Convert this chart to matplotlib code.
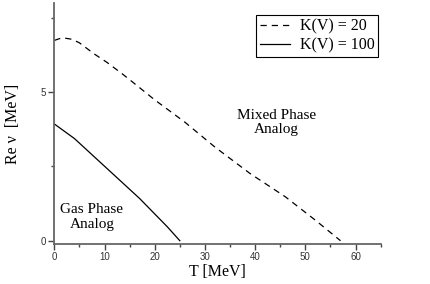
import matplotlib
matplotlib.use("Agg")
import matplotlib.pyplot as plt
from matplotlib.ticker import MultipleLocator

# Data
T_k20 = [0, 1, 2, 3.5, 5, 8, 10.5, 13.5, 15, 20, 26, 32, 39, 46, 52, 57]
V_k20 = [6.74, 6.8, 6.82, 6.78, 6.66, 6.28, 6.0, 5.62, 5.42, 4.74, 3.99, 3.15, 2.26, 1.48, 0.69, 0.0]
T_k100 = [0, 4, 10.5, 17, 22.5, 25]
V_k100 = [3.93, 3.44, 2.43, 1.42, 0.47, 0.0]
labels = ["K(V) = 20", "K(V) = 100"]
x_label = "T [MeV]"
y_label = "Re \u03bd  [MeV]"
x_ticks = [0, 10, 20, 30, 40, 50, 60]
y_ticks = [0, 5]

serif = ["Liberation Serif", "DejaVu Serif"]
sans = ["Liberation Sans", "DejaVu Sans"]

fig = plt.figure(figsize=(4.3, 2.84), dpi=100)
ax = fig.add_axes([54.3 / 430, (284 - 244) / 284, (380.7 - 54.3) / 430, (244 - 3) / 284])

ax.plot(T_k20, V_k20, color="black", lw=0.9, linestyle=(0, (5, 4)), label=labels[0])
ax.plot(T_k100, V_k100, color="black", lw=0.9, linestyle="-", label=labels[1])

ax.set_xlim(0, 65)
ax.set_ylim(-0.11, 8)

for s in ["top", "right"]:
    ax.spines[s].set_visible(False)
for s in ["left", "bottom"]:
    ax.spines[s].set_color("#666666")
    ax.spines[s].set_linewidth(1.3)

ax.set_xticks(x_ticks)
ax.set_yticks(y_ticks)
ax.xaxis.set_minor_locator(MultipleLocator(5))
ax.yaxis.set_minor_locator(MultipleLocator(2.5))
ax.tick_params(which="major", direction="out", length=4, width=1, color="#444444",
               labelsize=7, labelcolor="#333333", pad=2)
ax.tick_params(which="minor", direction="out", length=2.5, width=1, color="#444444")
for lab in ax.get_xticklabels() + ax.get_yticklabels():
    lab.set_family(sans)

ax.set_xlabel(x_label, family=serif, fontsize=11.5, labelpad=1)
ax.set_ylabel(y_label, family=serif, fontsize=11.5, labelpad=14)

ax.text(44.2, 3.98, "Mixed Phase\nAnalog", family=serif, fontsize=11,
        ha="center", va="center", linespacing=1.15)
ax.text(7.5, 0.8, "Gas Phase\nAnalog", family=serif, fontsize=11,
        ha="center", va="center", linespacing=1.15)

leg = ax.legend(loc="upper right", bbox_to_anchor=(378 / 430, (284 - 15) / 284),
                bbox_transform=fig.transFigure, prop={"family": serif, "size": 11.5},
                frameon=True, fancybox=False, edgecolor="black", framealpha=1,
                handlelength=1.9, borderpad=0.22, labelspacing=0.2, handletextpad=0.6,
                borderaxespad=0)
leg.get_frame().set_linewidth(0.8)

fig.savefig("out.png", dpi=100)
